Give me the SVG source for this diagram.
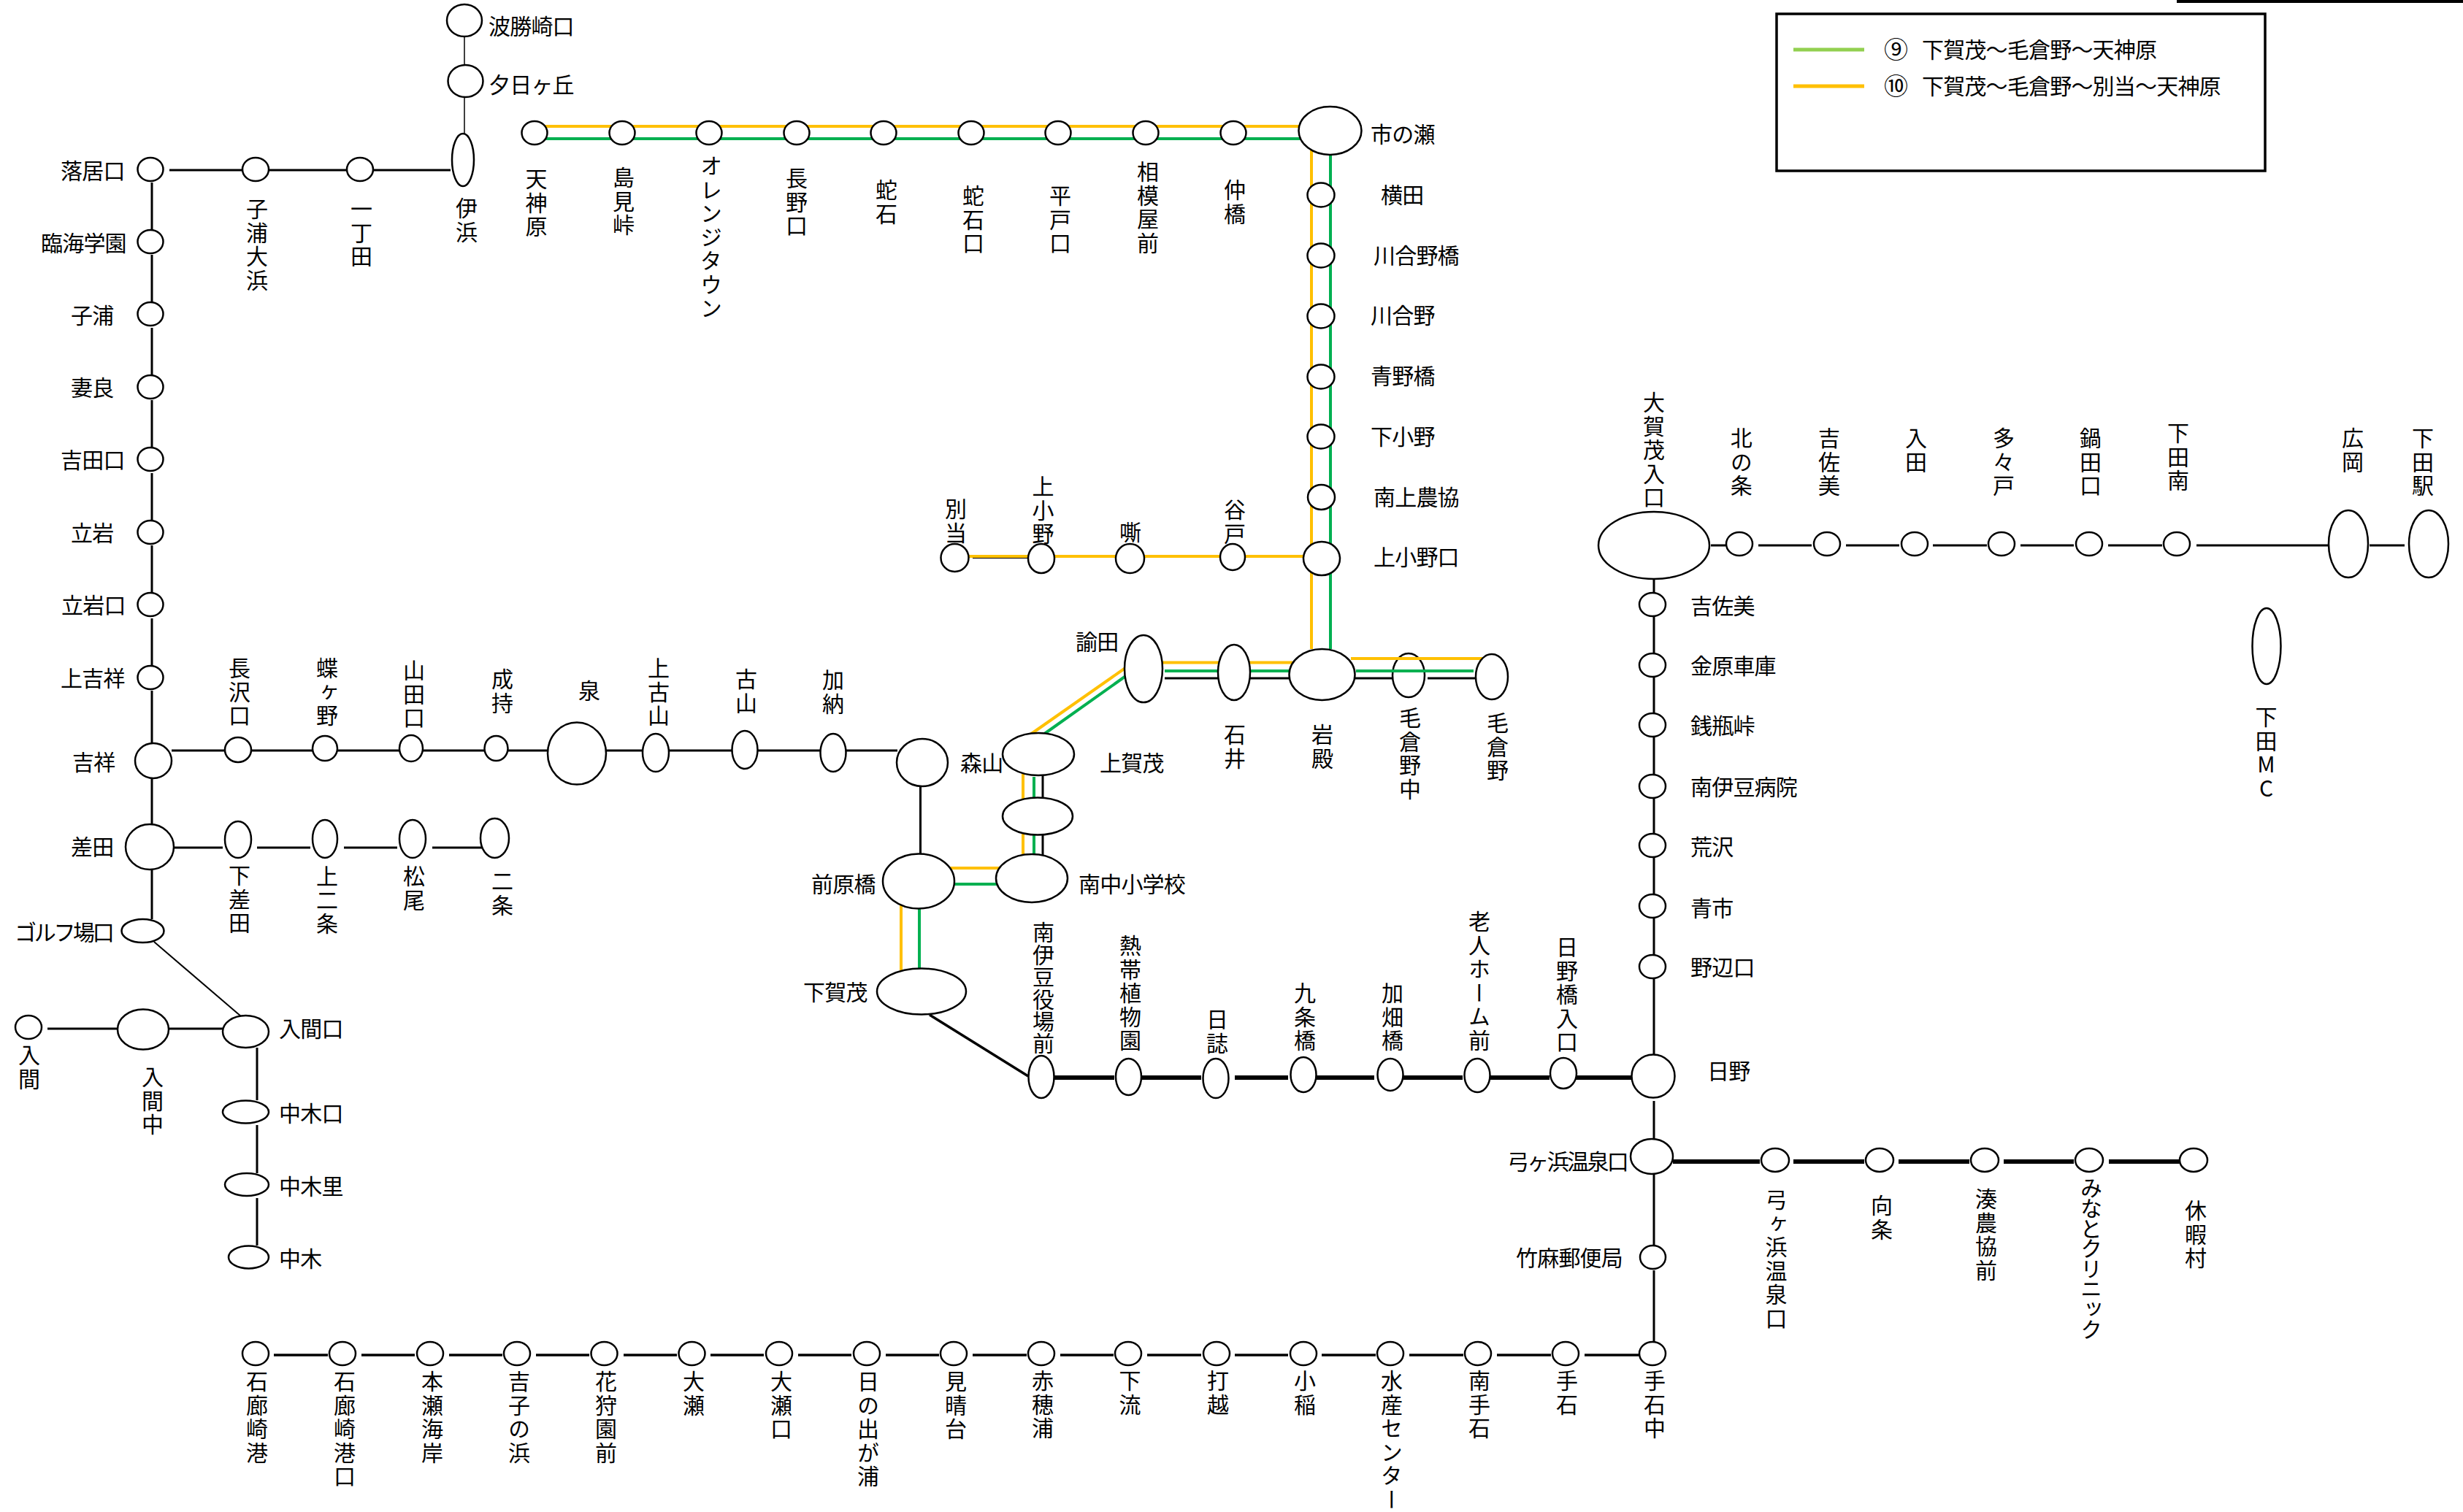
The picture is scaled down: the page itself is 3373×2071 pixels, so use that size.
<svg xmlns="http://www.w3.org/2000/svg" width="3373" height="2071" viewBox="0 0 3373 2071">
<style>
text{font-family:"Noto Sans CJK JP","Noto Sans",sans-serif;font-size:30px;fill:#000}
.h{dominant-baseline:central;letter-spacing:-0.8px;transform:translateY(-2px)}
.v{writing-mode:vertical-rl;text-orientation:upright;letter-spacing:2.5px}
.c{font-size:33px}
ellipse{fill:#fff;stroke:#000;stroke-width:2.5}
line{fill:none}
.k1{stroke:#000;stroke-width:1.5}
.k2{stroke:#000;stroke-width:2}
.k3{stroke:#000;stroke-width:3}
.k35{stroke:#000;stroke-width:3.5}
.k6{stroke:#000;stroke-width:6}
.y{stroke:#FFC000;stroke-width:4}
.g{stroke:#00B050;stroke-width:4}
</style>
<rect x="0" y="0" width="3373" height="2071" fill="#fff"/>
<rect x="2981" y="0" width="392" height="4" fill="#000"/>
<g id="legend">
<rect x="2433" y="19" width="669" height="215" fill="none" stroke="#000" stroke-width="3.5"/>
<line x1="2456" y1="68" x2="2553" y2="68" stroke="#92D050" stroke-width="5"/>
<line x1="2456" y1="118" x2="2553" y2="118" stroke="#FFC000" stroke-width="5"/>
<text class="h c" x="2580" y="68">⑨</text><text class="h" x="2632" y="68">下賀茂～毛倉野～天神原</text>
<text class="h c" x="2580" y="118">⑩</text><text class="h" x="2632" y="118">下賀茂～毛倉野～別当～天神原</text>
</g>
<g id="n-kekurano-naka"><ellipse cx="1929" cy="925" rx="22" ry="30"/><text class="v" x="1931" y="968">毛倉野中</text></g>
<g id="connectors">
<line class="k1" x1="636" y1="50" x2="636" y2="183"/>
<line class="k3" x1="232" y1="233" x2="617" y2="233"/>
<line class="k3" x1="208" y1="250" x2="208" y2="315"/><line class="k3" x1="208" y1="349" x2="208" y2="414"/><line class="k3" x1="208" y1="449" x2="208" y2="514"/><line class="k3" x1="208" y1="548" x2="208" y2="613"/><line class="k3" x1="208" y1="648" x2="208" y2="713"/><line class="k3" x1="208" y1="747" x2="208" y2="812"/><line class="k3" x1="208" y1="847" x2="208" y2="912"/><line class="k3" x1="208" y1="946" x2="208" y2="1018"/><line class="k3" x1="208" y1="1065" x2="208" y2="1129"/><line class="k3" x1="208" y1="1190" x2="208" y2="1259"/>
<line class="k3" x1="235" y1="1028" x2="1229" y2="1028"/>
<line class="k3" x1="238" y1="1161" x2="305" y2="1161"/><line class="k3" x1="352" y1="1161" x2="425" y2="1161"/><line class="k3" x1="471" y1="1161" x2="544" y2="1161"/><line class="k3" x1="592" y1="1161" x2="660" y2="1161"/>
<line class="k2" x1="211" y1="1290" x2="330" y2="1392"/>
<line class="k3" x1="65" y1="1409" x2="161" y2="1409"/><line class="k3" x1="231" y1="1409" x2="305" y2="1409"/>
<line class="k3" x1="352" y1="1435" x2="352" y2="1507"/><line class="k3" x1="352" y1="1541" x2="352" y2="1607"/><line class="k3" x1="352" y1="1641" x2="352" y2="1706"/>
<line class="y" x1="732" y1="173" x2="1800" y2="173"/><line class="g" x1="732" y1="190" x2="1800" y2="190"/>
<line class="y" x1="1796" y1="205" x2="1796" y2="889"/><line class="g" x1="1822" y1="205" x2="1822" y2="889"/>
<line class="y" x1="1308" y1="762" x2="1790" y2="762"/>
<line x1="1332" y1="764.500" x2="1407" y2="764.500" stroke="#000" stroke-width="1"/>
<line class="y" x1="1592" y1="907.500" x2="1770" y2="907.500"/><line class="g" x1="1595" y1="919" x2="1770" y2="919"/><line class="k3" x1="1595" y1="929" x2="1770" y2="929"/>
<line class="y" x1="1850" y1="902" x2="2030" y2="902"/><line class="g" x1="1857" y1="919" x2="2018" y2="919"/><line class="k3" x1="1850" y1="929" x2="1908" y2="929"/><line class="k3" x1="1955" y1="929" x2="2024" y2="929"/>
<line class="y" x1="1541" y1="915" x2="1411" y2="1006"/><line class="g" x1="1543" y1="925" x2="1429" y2="1006"/>
<line class="y" x1="1401" y1="1058" x2="1401" y2="1096"/><line class="g" x1="1416" y1="1064" x2="1416" y2="1094"/><line class="k3" x1="1428" y1="1058" x2="1428" y2="1096"/>
<line class="y" x1="1401" y1="1141" x2="1401" y2="1175"/><line class="g" x1="1416" y1="1144" x2="1416" y2="1175"/><line class="k3" x1="1428" y1="1141" x2="1428" y2="1175"/>
<line class="y" x1="1300" y1="1189" x2="1370" y2="1189"/><line class="g" x1="1300" y1="1211" x2="1370" y2="1211"/>
<line class="y" x1="1234" y1="1238" x2="1234" y2="1332"/><line class="g" x1="1259" y1="1244" x2="1259" y2="1328"/>
<line class="k3" x1="1260.500" y1="1077" x2="1260.500" y2="1169"/>
<line class="k35" x1="1273" y1="1390" x2="1408" y2="1474"/>
<line class="k6" x1="1443" y1="1476" x2="1526" y2="1476"/><line class="k6" x1="1563" y1="1476" x2="1645" y2="1476"/><line class="k6" x1="1691" y1="1476" x2="1764" y2="1476"/><line class="k6" x1="1802" y1="1476" x2="1882" y2="1476"/><line class="k6" x1="1922" y1="1476" x2="2003" y2="1476"/><line class="k6" x1="2041" y1="1476" x2="2122" y2="1476"/><line class="k6" x1="2158" y1="1476" x2="2236" y2="1476"/>
<line class="k3" x1="2343" y1="747" x2="2363" y2="747"/><line class="k3" x1="2408" y1="747" x2="2481" y2="747"/><line class="k3" x1="2528" y1="747" x2="2601" y2="747"/><line class="k3" x1="2647" y1="747" x2="2721" y2="747"/><line class="k3" x1="2767" y1="747" x2="2840" y2="747"/><line class="k3" x1="2887" y1="747" x2="2961" y2="747"/><line class="k3" x1="3008" y1="747" x2="3189" y2="747"/><line class="k3" x1="3245" y1="747" x2="3293" y2="747"/>
<line class="k3" x1="2265" y1="793" x2="2265" y2="1445"/>
<line class="k3" x1="2265" y1="1508" x2="2265" y2="1560"/><line class="k3" x1="2265" y1="1608" x2="2265" y2="1706"/><line class="k3" x1="2265" y1="1740" x2="2265" y2="1838"/>
<line class="k6" x1="2291" y1="1591" x2="2410" y2="1591"/><line class="k6" x1="2456" y1="1591" x2="2553" y2="1591"/><line class="k6" x1="2600" y1="1591" x2="2697" y2="1591"/><line class="k6" x1="2744" y1="1591" x2="2840" y2="1591"/><line class="k6" x1="2888" y1="1591" x2="2986" y2="1591"/>
<line class="k35" x1="375" y1="1856" x2="449" y2="1856"/><line class="k35" x1="495" y1="1856" x2="568" y2="1856"/><line class="k35" x1="615" y1="1856" x2="688" y2="1856"/><line class="k35" x1="734" y1="1856" x2="807" y2="1856"/><line class="k35" x1="854" y1="1856" x2="927" y2="1856"/><line class="k35" x1="973" y1="1856" x2="1046" y2="1856"/><line class="k35" x1="1093" y1="1856" x2="1166" y2="1856"/><line class="k35" x1="1213" y1="1856" x2="1286" y2="1856"/><line class="k35" x1="1332" y1="1856" x2="1406" y2="1856"/><line class="k35" x1="1452" y1="1856" x2="1525" y2="1856"/><line class="k35" x1="1571" y1="1856" x2="1645" y2="1856"/><line class="k35" x1="1691" y1="1856" x2="1764" y2="1856"/><line class="k35" x1="1810" y1="1856" x2="1884" y2="1856"/><line class="k35" x1="1930" y1="1856" x2="2004" y2="1856"/><line class="k35" x1="2050" y1="1856" x2="2124" y2="1856"/><line class="k35" x1="2170" y1="1856" x2="2244" y2="1856"/>
</g>
<g id="nodes">
<g id="n-hagachizaki"><ellipse cx="636" cy="28" rx="24" ry="22"/><text class="h" x="669" y="36">波勝崎口</text></g>
<g id="n-yuhigaoka"><ellipse cx="637.500" cy="111" rx="24" ry="22"/><text class="h" x="669" y="116">夕日ヶ丘</text></g>
<g id="n-ihama"><ellipse cx="634" cy="219" rx="15" ry="36"/><text class="v" x="639" y="270">伊浜</text></g>
<g id="n-ochiiguchi"><ellipse cx="206" cy="232" rx="17.500" ry="16"/><text class="h" x="83" y="234">落居口</text></g>
<g id="n-koura-ohama"><ellipse cx="350" cy="232" rx="18" ry="16"/><text class="v" x="352" y="271">子浦大浜</text></g>
<g id="n-itchoda"><ellipse cx="493" cy="232" rx="18" ry="16"/><text class="v" x="495" y="271">一丁田</text></g>
<g id="n-rinkai"><ellipse cx="206" cy="331" rx="17.500" ry="16"/><text class="h" x="56" y="333">臨海学園</text></g>
<g id="n-koura"><ellipse cx="206" cy="430" rx="17.500" ry="16"/><text class="h" x="97" y="432">子浦</text></g>
<g id="n-mera"><ellipse cx="206" cy="530" rx="17.500" ry="16"/><text class="h" x="97" y="531">妻良</text></g>
<g id="n-yoshidaguchi"><ellipse cx="206" cy="629" rx="17.500" ry="16"/><text class="h" x="83" y="630">吉田口</text></g>
<g id="n-tateiwa"><ellipse cx="206" cy="729" rx="17.500" ry="16"/><text class="h" x="97" y="730">立岩</text></g>
<g id="n-tateiwaguchi"><ellipse cx="206" cy="828" rx="17.500" ry="16"/><text class="h" x="84" y="829">立岩口</text></g>
<g id="n-kamikissho"><ellipse cx="206" cy="928" rx="17.500" ry="16"/><text class="h" x="83" y="929">上吉祥</text></g>
<g id="n-kissho"><ellipse cx="210" cy="1042" rx="25" ry="24"/><text class="h" x="99" y="1044">吉祥</text></g>
<g id="n-sashida"><ellipse cx="205" cy="1160" rx="33" ry="31"/><text class="h" x="97" y="1160">差田</text></g>
<g id="n-golf"><ellipse cx="195.500" cy="1275" rx="29" ry="16"/><text class="h" x="20" y="1277" textLength="136">ゴルフ場口</text></g>
<g id="n-nagasawaguchi"><ellipse cx="326" cy="1027" rx="18" ry="17"/><text class="v" x="328" y="900">長沢口</text></g>
<g id="n-chogano"><ellipse cx="445" cy="1025" rx="17" ry="17"/><text class="v" x="448" y="900">蝶ヶ野</text></g>
<g id="n-yamadaguchi"><ellipse cx="563" cy="1025" rx="16" ry="18"/><text class="v" x="567" y="903">山田口</text></g>
<g id="n-narumochi"><ellipse cx="679.500" cy="1025" rx="16" ry="17"/><text class="v" x="688" y="915">成持</text></g>
<g id="n-izumi"><ellipse cx="790" cy="1032" rx="40" ry="42.500"/><text class="v" x="807" y="931">泉</text></g>
<g id="n-kamifuruyama"><ellipse cx="898" cy="1031" rx="18" ry="26"/><text class="v" x="902" y="900">上古山</text></g>
<g id="n-furuyama"><ellipse cx="1020" cy="1027" rx="17.500" ry="26"/><text class="v" x="1022" y="915">古山</text></g>
<g id="n-kano"><ellipse cx="1141" cy="1031" rx="17.500" ry="26"/><text class="v" x="1141" y="916">加納</text></g>
<g id="n-moriyama"><ellipse cx="1263" cy="1044.500" rx="35" ry="32.500"/><text class="h" x="1315" y="1045">森山</text></g>
<g id="n-shimosashida"><ellipse cx="326" cy="1150" rx="18" ry="25"/><text class="v" x="328" y="1184">下差田</text></g>
<g id="n-kaminijo"><ellipse cx="445" cy="1149" rx="17" ry="26"/><text class="v" x="448" y="1185">上二条</text></g>
<g id="n-matsuo"><ellipse cx="565" cy="1149" rx="18" ry="26"/><text class="v" x="567" y="1185">松尾</text></g>
<g id="n-nijo"><ellipse cx="677.500" cy="1148" rx="19.500" ry="27"/><text class="v" x="688" y="1192">二条</text></g>
<g id="n-iruma"><ellipse cx="39" cy="1407" rx="18" ry="16"/><text class="v" x="40" y="1430">入間</text></g>
<g id="n-irumanaka"><ellipse cx="196" cy="1410" rx="35" ry="27.500"/><text class="v" x="209" y="1460">入間中</text></g>
<g id="n-irumaguchi"><ellipse cx="336.500" cy="1413" rx="31.500" ry="22"/><text class="h" x="382" y="1409">入間口</text></g>
<g id="n-nakagiguchi"><ellipse cx="336.500" cy="1523" rx="31.500" ry="15.500"/><text class="h" x="382" y="1525">中木口</text></g>
<g id="n-nakagisato"><ellipse cx="338" cy="1622.500" rx="30" ry="15.500"/><text class="h" x="382" y="1625">中木里</text></g>
<g id="n-nakagi"><ellipse cx="340.500" cy="1722" rx="27.500" ry="15.500"/><text class="h" x="382" y="1724">中木</text></g>
<g id="n-tenjinbara"><ellipse cx="732" cy="182" rx="17.500" ry="16"/><text class="v" x="734.500" y="230">天神原</text></g>
<g id="n-shimamitoge"><ellipse cx="852" cy="182" rx="17.500" ry="16"/><text class="v" x="854" y="228">島見峠</text></g>
<g id="n-orange"><ellipse cx="971" cy="182" rx="17.500" ry="16"/><text class="v" x="974" y="212">オレンジタウン</text></g>
<g id="n-naganoguchi"><ellipse cx="1091" cy="182" rx="17.500" ry="16"/><text class="v" x="1091" y="229">長野口</text></g>
<g id="n-jaishi"><ellipse cx="1210" cy="182" rx="17.500" ry="16"/><text class="v" x="1214" y="245">蛇石</text></g>
<g id="n-jaishiguchi"><ellipse cx="1330" cy="182" rx="17.500" ry="16"/><text class="v" x="1333" y="253">蛇石口</text></g>
<g id="n-hiradoguchi"><ellipse cx="1449" cy="182" rx="17.500" ry="16"/><text class="v" x="1452" y="253">平戸口</text></g>
<g id="n-sagamiyamae"><ellipse cx="1569" cy="182" rx="17.500" ry="16"/><text class="v" x="1572" y="220">相模屋前</text></g>
<g id="n-nakabashi"><ellipse cx="1689" cy="182" rx="17.500" ry="16"/><text class="v" x="1691" y="245">仲橋</text></g>
<g id="n-ichinose"><ellipse cx="1821.500" cy="179" rx="43" ry="33"/><text class="h" x="1877" y="184">市の瀬</text></g>
<g id="n-yokota"><ellipse cx="1809" cy="267" rx="18.500" ry="16.500"/><text class="h" x="1891" y="267">横田</text></g>
<g id="n-kawaigonobashi"><ellipse cx="1809" cy="350" rx="18.500" ry="16.500"/><text class="h" x="1881" y="350">川合野橋</text></g>
<g id="n-kawaigono"><ellipse cx="1809" cy="433" rx="18.500" ry="16.500"/><text class="h" x="1877" y="432">川合野</text></g>
<g id="n-aonobashi"><ellipse cx="1809" cy="516" rx="18.500" ry="16.500"/><text class="h" x="1877" y="515">青野橋</text></g>
<g id="n-shimoono"><ellipse cx="1809" cy="598" rx="18.500" ry="16.500"/><text class="h" x="1877" y="598">下小野</text></g>
<g id="n-minamikaminokyo"><ellipse cx="1809.500" cy="681" rx="18.500" ry="17"/><text class="h" x="1881" y="681">南上農協</text></g>
<g id="n-kamionoguchi"><ellipse cx="1810" cy="765" rx="25" ry="23"/><text class="h" x="1881" y="763">上小野口</text></g>
<g id="n-betto"><ellipse cx="1307.500" cy="764" rx="19" ry="19"/><text class="v" x="1309" y="682">別当</text></g>
<g id="n-kamiono"><ellipse cx="1426" cy="765" rx="18" ry="20"/><text class="v" x="1428.500" y="651">上小野</text></g>
<g id="n-usobuki"><ellipse cx="1547.500" cy="765" rx="19.500" ry="20"/><text class="v" x="1548" y="714">嘶</text></g>
<g id="n-tanido"><ellipse cx="1688" cy="763" rx="17" ry="18"/><text class="v" x="1691" y="683">谷戸</text></g>
<g id="n-ronden"><ellipse cx="1566" cy="916" rx="26" ry="46"/><text class="h" x="1473" y="879">諭田</text></g>
<g id="n-ishii"><ellipse cx="1690" cy="921" rx="22" ry="38"/><text class="v" x="1691" y="991">石井</text></g>
<g id="n-iwadono"><ellipse cx="1810.500" cy="924" rx="45" ry="35"/><text class="v" x="1811" y="991">岩殿</text></g>
<g id="n-kekurano"><ellipse cx="2043" cy="927" rx="22" ry="31"/><text class="v" x="2051" y="975">毛倉野</text></g>
<g id="n-kamigamo"><ellipse cx="1422" cy="1033" rx="49" ry="29"/><text class="h" x="1506" y="1045">上賀茂</text></g>
<g id="n-kamigamo2"><ellipse cx="1421" cy="1118" rx="48" ry="25.500"/></g>
<g id="n-minaminaka"><ellipse cx="1413" cy="1203" rx="49" ry="33"/><text class="h" x="1477" y="1211">南中小学校</text></g>
<g id="n-maebarabashi"><ellipse cx="1258" cy="1207" rx="49" ry="37.500"/><text class="h" x="1111" y="1211">前原橋</text></g>
<g id="n-shimogamo"><ellipse cx="1262" cy="1358" rx="61" ry="31.500"/><text class="h" x="1100" y="1359">下賀茂</text></g>
<g id="n-yakuba"><ellipse cx="1426" cy="1475" rx="17.500" ry="29"/><text class="v" x="1429" y="1262" style="letter-spacing:0.4px">南伊豆役場前</text></g>
<g id="n-nettai"><ellipse cx="1545.500" cy="1475" rx="17.500" ry="25"/><text class="v" x="1548" y="1280">熱帯植物園</text></g>
<g id="n-hizume"><ellipse cx="1665" cy="1477" rx="17.500" ry="27"/><text class="v" x="1667" y="1381">日誌</text></g>
<g id="n-kujobashi"><ellipse cx="1785" cy="1472" rx="17.500" ry="24"/><text class="v" x="1787" y="1345">九条橋</text></g>
<g id="n-kabatabashi"><ellipse cx="1904" cy="1472" rx="17.500" ry="22"/><text class="v" x="1907" y="1345">加畑橋</text></g>
<g id="n-rojin"><ellipse cx="2023" cy="1473" rx="17.500" ry="23"/><text class="v" x="2026" y="1247">老人ホーム前</text></g>
<g id="n-hinobashi"><ellipse cx="2141" cy="1470" rx="18" ry="21"/><text class="v" x="2146" y="1282">日野橋入口</text></g>
<g id="n-hino"><ellipse cx="2264" cy="1474" rx="29.500" ry="29.500"/><text class="h" x="2338" y="1467">日野</text></g>
<g id="n-ogamoiriguchi"><ellipse cx="2265" cy="747" rx="76" ry="46"/><text class="v" x="2265" y="536">大賀茂入口</text></g>
<g id="n-kitanojo"><ellipse cx="2382" cy="745" rx="18" ry="16"/><text class="v" x="2384.700" y="585">北の条</text></g>
<g id="n-kisami"><ellipse cx="2502" cy="745" rx="18" ry="16"/><text class="v" x="2505" y="585">吉佐美</text></g>
<g id="n-irita"><ellipse cx="2622" cy="745" rx="18" ry="16"/><text class="v" x="2624" y="585">入田</text></g>
<g id="n-tatado"><ellipse cx="2741" cy="745" rx="18" ry="16"/><text class="v" x="2744" y="585">多々戸</text></g>
<g id="n-nabetaguchi"><ellipse cx="2861" cy="745" rx="18" ry="16"/><text class="v" x="2863" y="585">鍋田口</text></g>
<g id="n-shimodaminami"><ellipse cx="2981" cy="745" rx="18" ry="16"/><text class="v" x="2983" y="578">下田南</text></g>
<g id="n-hirooka"><ellipse cx="3216" cy="745" rx="27" ry="46"/><text class="v" x="3222" y="585">広岡</text></g>
<g id="n-shimodaeki"><ellipse cx="3326" cy="745" rx="27" ry="46"/><text class="v" x="3318" y="585">下田駅</text></g>
<g id="n-shimodamc"><ellipse cx="3104" cy="885" rx="19.500" ry="52"/><text class="v" x="3103.500" y="967">下田MC</text></g>
<g id="n-kisami2"><ellipse cx="2263" cy="828" rx="18" ry="16"/><text class="h" x="2315" y="830">吉佐美</text></g>
<g id="n-kanahara"><ellipse cx="2263" cy="911" rx="18" ry="16"/><text class="h" x="2315" y="912">金原車庫</text></g>
<g id="n-zenigame"><ellipse cx="2263" cy="993" rx="18" ry="16"/><text class="h" x="2315" y="994">銭瓶峠</text></g>
<g id="n-byoin"><ellipse cx="2263" cy="1077" rx="18" ry="16"/><text class="h" x="2315" y="1078">南伊豆病院</text></g>
<g id="n-arasawa"><ellipse cx="2263" cy="1158" rx="18" ry="16"/><text class="h" x="2315" y="1160">荒沢</text></g>
<g id="n-aoichi"><ellipse cx="2263" cy="1241" rx="18" ry="16"/><text class="h" x="2315" y="1244">青市</text></g>
<g id="n-nobeguchi"><ellipse cx="2263" cy="1324" rx="18" ry="16"/><text class="h" x="2315" y="1325">野辺口</text></g>
<g id="n-yumigahamaguchi"><ellipse cx="2262" cy="1584" rx="29" ry="24"/><text class="h" x="2064" y="1591" textLength="166">弓ヶ浜温泉口</text></g>
<g id="n-takema"><ellipse cx="2263.500" cy="1722" rx="17.500" ry="16"/><text class="h" x="2076" y="1723">竹麻郵便局</text></g>
<g id="n-yumigahama"><ellipse cx="2431" cy="1589" rx="19" ry="16"/><text class="v" x="2432.500" y="1628">弓ヶ浜温泉口</text></g>
<g id="n-mukaijo"><ellipse cx="2574" cy="1589" rx="19" ry="16"/><text class="v" x="2577" y="1636">向条</text></g>
<g id="n-minato"><ellipse cx="2718" cy="1589" rx="19" ry="16"/><text class="v" x="2720" y="1627">湊農協前</text></g>
<g id="n-minatoclinic"><ellipse cx="2861" cy="1589" rx="19" ry="16"/><text class="v" x="2864" y="1612" style="letter-spacing:-2.400px">みなとクリニック</text></g>
<g id="n-kyukamura"><ellipse cx="3004" cy="1589" rx="19" ry="16"/><text class="v" x="3007" y="1643">休暇村</text></g>
<g id="n-ishirozaki"><ellipse cx="350" cy="1854" rx="18" ry="16"/><text class="v" x="352" y="1877">石廊崎港</text></g>
<g id="n-ishirozakiguchi"><ellipse cx="469" cy="1854" rx="18" ry="16"/><text class="v" x="472" y="1877">石廊崎港口</text></g>
<g id="n-motose"><ellipse cx="589" cy="1854" rx="18" ry="16"/><text class="v" x="592" y="1877">本瀬海岸</text></g>
<g id="n-kibune"><ellipse cx="708" cy="1854" rx="18" ry="16"/><text class="v" x="711" y="1877">吉子の浜</text></g>
<g id="n-hanakari"><ellipse cx="827.500" cy="1854" rx="18" ry="16"/><text class="v" x="830" y="1877">花狩園前</text></g>
<g id="n-ose"><ellipse cx="947.500" cy="1854" rx="18" ry="16"/><text class="v" x="950" y="1877">大瀬</text></g>
<g id="n-oseguchi"><ellipse cx="1067" cy="1854" rx="18" ry="16"/><text class="v" x="1070" y="1877">大瀬口</text></g>
<g id="n-hinode"><ellipse cx="1187" cy="1854" rx="18" ry="16"/><text class="v" x="1189" y="1877">日の出が浦</text></g>
<g id="n-miharashi"><ellipse cx="1306" cy="1854" rx="18" ry="16"/><text class="v" x="1309" y="1877">見晴台</text></g>
<g id="n-akaho"><ellipse cx="1426" cy="1854" rx="18" ry="16"/><text class="v" x="1428" y="1876">赤穂浦</text></g>
<g id="n-shimoryu"><ellipse cx="1545" cy="1854" rx="18" ry="16"/><text class="v" x="1547.500" y="1876">下流</text></g>
<g id="n-uchikoshi"><ellipse cx="1666" cy="1854" rx="18" ry="16"/><text class="v" x="1668" y="1876">打越</text></g>
<g id="n-koine"><ellipse cx="1785" cy="1854" rx="18" ry="16"/><text class="v" x="1787" y="1876">小稲</text></g>
<g id="n-suisan"><ellipse cx="1904" cy="1854" rx="18" ry="16"/><text class="v" x="1906" y="1876">水産センター</text></g>
<g id="n-minamiteishi"><ellipse cx="2024" cy="1854" rx="18" ry="16"/><text class="v" x="2026" y="1876">南手石</text></g>
<g id="n-teishi"><ellipse cx="2144" cy="1854" rx="18" ry="16"/><text class="v" x="2146" y="1876">手石</text></g>
<g id="n-teishinaka"><ellipse cx="2263" cy="1854" rx="18" ry="16"/><text class="v" x="2266" y="1876">手石中</text></g>
</g>
</svg>
